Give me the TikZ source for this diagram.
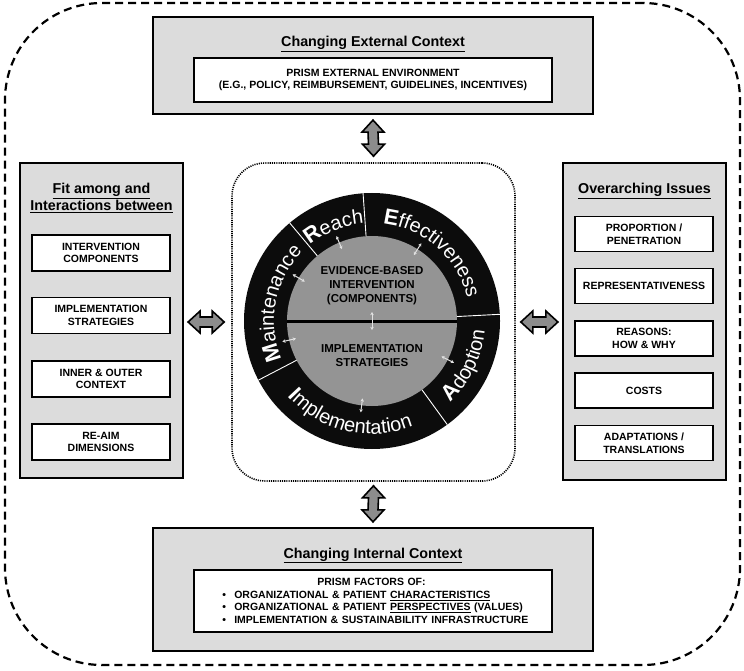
\documentclass[tikz,border=0pt]{standalone}
\usepackage{fontspec}
\setmainfont{Liberation Sans}
\usetikzlibrary{decorations.text, calc, arrows.meta}
\definecolor{boxgray}{HTML}{DCDCDC}
\definecolor{midgray}{HTML}{949494}
\definecolor{arrgray}{HTML}{8C8C8C}
\definecolor{ringblack}{HTML}{0C0C0C}
\definecolor{tinyarrow}{HTML}{E2E2E2}
\newcommand\ringcap{\fontsize{22}{22}\selectfont\bfseries}
\newcommand\ringlow{\fontsize{20}{20}\selectfont}
\tikzset{
  outerbox/.style={draw=black, line width=2.2pt, fill=boxgray, inner sep=0pt},
  innerbox/.style={draw=black, line width=1.8pt, fill=white, inner sep=0pt,
    font=\fontsize{10.5}{12.7}\selectfont\bfseries, align=center},
  titletext/.style={font=\fontsize{14.3}{17}\selectfont\bfseries, align=center, inner sep=0pt},
  circtext/.style={font=\fontsize{11.5}{14}\selectfont\bfseries, align=center, inner sep=0pt, text=black},
  bigarrow/.style={draw=black, line width=1.6pt, fill=arrgray, line join=miter},
  smallarrow/.style={draw=tinyarrow, line width=1pt, {Stealth[length=3.2pt,width=3.6pt]}-{Stealth[length=3.2pt,width=3.6pt]}},
  divider/.style={draw=white, line width=0.9pt},
  ringlabel/.style={decorate, decoration={text along path, text align=center, text color=white, text={#1}}}
}
\newcommand\vbigarrow[2]{%
  \draw[bigarrow] (#1) -- ++(11,12) -- ++(-6,0) -- ($(#2)+(5,-12)$) -- ++(6,0) -- (#2)
    -- ++(-11,-12) -- ++(6,0) -- ($(#1)+(-5,12)$) -- ++(-6,0) -- cycle;}
\newcommand\hbigarrow[2]{%
  \draw[bigarrow] (#1) -- ++(12,-11) -- ++(0,6) -- ($(#2)+(-12,-5)$) -- ++(0,-6) -- (#2)
    -- ++(-12,11) -- ++(0,-6) -- ($(#1)+(12,5)$) -- ++(0,6) -- cycle;}
\begin{document}
\begin{tikzpicture}[x=1pt, y=-1pt]
\useasboundingbox (0,0) rectangle (744,671);
% outer dashed frame
\node[draw=black, line width=2.2pt, dash pattern=on 8pt off 5pt, rounded corners=97pt,
  minimum width=735pt, minimum height=662pt, inner sep=0pt] (frame) at (372.5,334) {};

% top box
\node[outerbox, minimum width=440pt, minimum height=97pt] (ext) at (373,65.5) {};
\node[titletext, anchor=base] (extT) at (373,47) {\underline{Changing External Context}};
\node[innerbox, minimum width=358pt, minimum height=44pt] (extI) at (373,80)
  {PRISM EXTERNAL ENVIRONMENT\\(E.G., POLICY, REIMBURSEMENT, GUIDELINES, INCENTIVES)};

% left box
\node[outerbox, minimum width=163pt, minimum height=315pt] (fit) at (101.5,320.5) {};
\node[titletext] (fitT) at (101.5,198) {\underline{Fit among and}\\\underline{Interactions between}};
\node[innerbox, minimum width=138pt, minimum height=36pt] (f1) at (101,253) {INTERVENTION\\COMPONENTS};
\node[innerbox, minimum width=138pt, minimum height=36pt] (f2) at (101,315.5) {IMPLEMENTATION\\STRATEGIES};
\node[innerbox, minimum width=138pt, minimum height=36pt] (f3) at (101,379) {INNER \& OUTER\\CONTEXT};
\node[innerbox, minimum width=138pt, minimum height=36pt] (f4) at (101,442) {RE-AIM\\DIMENSIONS};

% right box
\node[outerbox, minimum width=163pt, minimum height=317pt] (over) at (644.5,321.5) {};
\node[titletext, anchor=base] (overT) at (644.5,194) {\underline{Overarching Issues}};
\node[innerbox, minimum width=138pt, minimum height=35pt] (o1) at (644,234) {PROPORTION /\\PENETRATION};
\node[innerbox, minimum width=138pt, minimum height=35pt] (o2) at (644,286) {REPRESENTATIVENESS};
\node[innerbox, minimum width=138pt, minimum height=35pt] (o3) at (644,338.5) {REASONS:\\HOW \& WHY};
\node[innerbox, minimum width=138pt, minimum height=35pt] (o4) at (644,390.5) {COSTS};
\node[innerbox, minimum width=138pt, minimum height=35pt] (o5) at (644,443) {ADAPTATIONS /\\TRANSLATIONS};

% bottom box
\node[outerbox, minimum width=440pt, minimum height=123pt] (int) at (373,589.5) {};
\node[titletext, anchor=base] (intT) at (373,558) {\underline{Changing Internal Context}};
\node[innerbox, minimum width=358pt, minimum height=62pt] (bin) at (373,601) {};
\node[font=\fontsize{10.5}{12.7}\selectfont\bfseries, text width=314pt, align=left, inner sep=0pt, anchor=west]
  (bt) at ($(bin.west)+(29,0)$)
  {\hspace*{95pt}PRISM FACTORS OF:\\
   \makebox[12pt][l]{\textbullet}ORGANIZATIONAL \& PATIENT \underline{CHARACTERISTICS}\\
   \makebox[12pt][l]{\textbullet}ORGANIZATIONAL \& PATIENT \underline{PERSPECTIVES} (VALUES)\\
   \makebox[12pt][l]{\textbullet}IMPLEMENTATION \& SUSTAINABILITY INFRASTRUCTURE};

% central dotted box
\node[draw=black, line width=1.6pt, dash pattern=on 1.1pt off 1.1pt, rounded corners=33pt,
  minimum width=283pt, minimum height=318pt, inner sep=0pt] (core) at (373.5,322) {};

% big arrows
\vbigarrow{$(ext.south)+(0,5)$}{$(core.north)+(0,-6)$}
\vbigarrow{$(core.south)+(0,4)$}{$(int.north)+(0,-5)$}
\hbigarrow{$(fit.east|-core.west)+(4,0)$}{$(core.west)+(-7,0)$}
\hbigarrow{$(core.east)+(5,0)$}{$(over.west|-core.east)+(-4,0)$}

% RE-AIM wheel
\begin{scope}[shift={(372,321)}, y=1pt]
  \fill[ringblack] (0,0) circle[radius=128];
  \fill[midgray] (0,0) circle[radius=85];
  \foreach \a in {130,94,3,-54,207.5} \draw[divider] (\a:85) -- (\a:128);
  \draw[black, line width=3pt] (-85,0) -- (85,0);
  \node[circtext] (ebi) at (0,35) {EVIDENCE-BASED\\INTERVENTION\\(COMPONENTS)};
  \node[circtext] (strat) at (0,-34.5) {IMPLEMENTATION\\STRATEGIES};
  \foreach \a in {112.7,57.6,149.6,193,-27,263} \draw[smallarrow] (\a:78) -- (\a:92);
  \draw[smallarrow] (0,9) -- (0,-9);
  \path[ringlabel={|\ringcap|M|\ringlow|aintenance}] (210:98) arc[start angle=210, end angle=128, radius=98];
  \path[ringlabel={|\ringcap|R|\ringlow|each}] (134:98) arc[start angle=134, end angle=90, radius=98];
  \path[ringlabel={|\ringcap|E|\ringlow|ffectiveness}] (96:98) arc[start angle=96, end angle=1, radius=98];
  \path[ringlabel={|\ringcap|A|\ringlow|doption}] (-56:113) arc[start angle=-56, end angle=5, radius=113];
  \path[ringlabel={|\ringcap|I|\ringlow|mplementation}] (205:113) arc[start angle=205, end angle=308, radius=113];
\end{scope}
\end{tikzpicture}
\end{document}
